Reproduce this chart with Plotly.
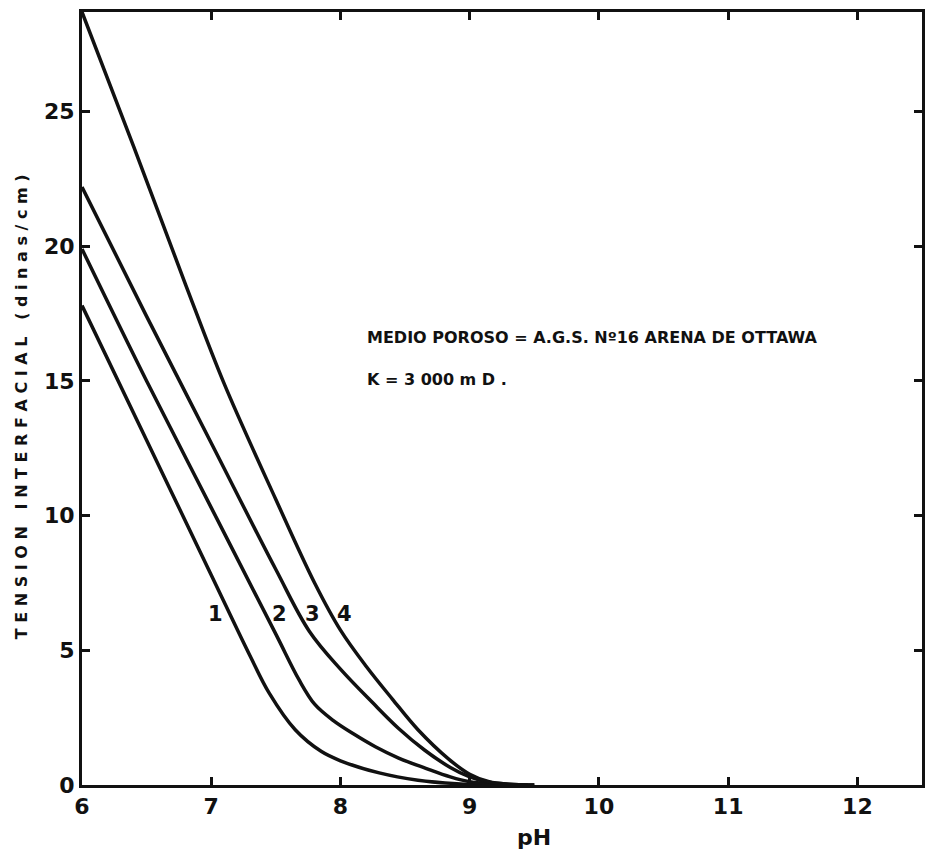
import plotly.graph_objects as go

# Curve data (pH, interfacial tension in dinas/cm)
ph_1 = [6.0, 6.5, 7.0, 7.3, 7.45, 7.65, 7.85, 8.0, 8.3, 8.6, 8.9, 9.2]
t_1 = [17.8, 12.8, 7.8, 4.8, 3.4, 2.05, 1.25, 0.9, 0.45, 0.18, 0.05, 0.0]

ph_2 = [6.0, 6.5, 7.0, 7.5, 7.68, 7.8, 7.94, 8.1, 8.27, 8.45, 8.66, 8.85, 9.0, 9.2, 9.45]
t_2 = [19.9, 15.0, 10.3, 5.6, 3.9, 3.0, 2.41, 1.9, 1.42, 1.0, 0.62, 0.3, 0.12, 0.03, 0.0]

ph_3 = [6.0, 6.5, 7.0, 7.5, 7.76, 8.0, 8.25, 8.45, 8.65, 8.85, 9.0, 9.15, 9.3, 9.5]
t_3 = [22.2, 17.4, 12.7, 8.0, 5.7, 4.3, 3.05, 2.1, 1.3, 0.65, 0.3, 0.1, 0.03, 0.0]

ph_4 = [6.0, 6.4, 6.8, 7.1, 7.5, 7.8, 8.0, 8.2, 8.4, 8.6, 8.84, 9.0, 9.15, 9.3, 9.5]
t_4 = [28.7, 23.7, 18.6, 14.9, 10.6, 7.5, 5.75, 4.4, 3.2, 2.05, 0.95, 0.4, 0.12, 0.03, 0.0]

curve_labels = ["1", "2", "3", "4"]
label_ph = [7.03, 7.53, 7.78, 8.03]
label_t = [6.35, 6.35, 6.35, 6.35]

x_ticks = [6, 7, 8, 9, 10, 11, 12]
y_ticks = [0, 5, 10, 15, 20, 25]

FONT = "DejaVu Sans, Liberation Sans, Arial, sans-serif"
INK = "#111111"

fig = go.Figure()
for xs, ys in [(ph_1, t_1), (ph_2, t_2), (ph_3, t_3), (ph_4, t_4)]:
    fig.add_trace(go.Scatter(x=xs, y=ys, mode="lines",
                             line=dict(color=INK, width=3.5, shape="spline", smoothing=1.0),
                             hoverinfo="skip"))

for lab, lx, ly in zip(curve_labels, label_ph, label_t):
    fig.add_annotation(x=lx, y=ly, xref="x", yref="y", text=lab, showarrow=False,
                       font=dict(family=FONT, size=21, color=INK, weight="bold"))

# Text annotations
fig.add_annotation(x=(366 - 82) / 843, y=(785 - 338) / 773, xref="paper", yref="paper",
                   xanchor="left", yanchor="middle", showarrow=False,
                   text="MEDIO POROSO = A.G.S. N\u00ba16 ARENA DE OTTAWA",
                   font=dict(family=FONT, size=16, color=INK, weight="bold"))
fig.add_annotation(x=(366 - 82) / 843, y=(785 - 379) / 773, xref="paper", yref="paper",
                   xanchor="left", yanchor="middle", showarrow=False,
                   text="K = 3 000 m D .",
                   font=dict(family=FONT, size=16, color=INK, weight="bold"))

# x-axis title
fig.add_annotation(x=9.5, y=-0.068, xref="x", yref="paper", xanchor="center", yanchor="middle",
                   showarrow=False, text="pH",
                   font=dict(family=FONT, size=22, color=INK, weight="bold"))

# y-axis title (letter-spaced as in the original)
ytitle = "T E N S I O N \u00a0 I N T E R F A C I A L \u00a0 ( d i n a s / c m )"
fig.add_annotation(x=(22 - 82) / 843, y=(785 - 407) / 773, xref="paper", yref="paper",
                   xanchor="center", yanchor="middle", showarrow=False, textangle=-90,
                   text=ytitle,
                   font=dict(family=FONT, size=16, color=INK, weight="bold"))

axis_common = dict(showline=True, linewidth=3, linecolor=INK, mirror="allticks",
                   ticks="inside", ticklen=8, tickwidth=3, tickcolor=INK,
                   showgrid=False, zeroline=False,
                   tickfont=dict(family=FONT, size=22, color=INK, weight="bold"))

fig.update_layout(
    width=930, height=853,
    margin=dict(l=82, r=5, t=12, b=68),
    plot_bgcolor="white", paper_bgcolor="white",
    showlegend=False,
    xaxis=dict(range=[6, 12.5], tickvals=x_ticks, **axis_common),
    yaxis=dict(range=[0, 28.7], tickvals=y_ticks, **axis_common),
)

fig.write_html("out.html")
